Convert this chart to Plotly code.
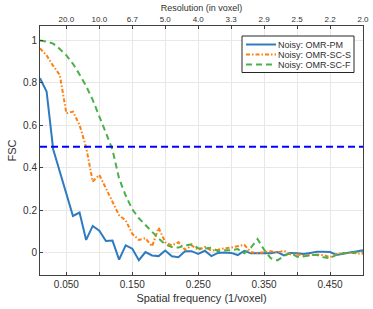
import plotly.graph_objects as go

freq = [round(0.01 * i, 2) for i in range(1, 51)]

omr_pm = [0.822, 0.76, 0.488, 0.385, 0.28, 0.174, 0.19, 0.061, 0.127, 0.105,
          0.056, 0.058, -0.032, 0.036, 0.02, -0.034, 0.004, -0.012, -0.015, 0.011,
          -0.016, -0.02, 0.008, 0.008, -0.005, 0.01, -0.015, 0.0, 0.002, 0.0,
          -0.01, 0.01, -0.002, 0.0, 0.0, -0.002, 0.004, -0.012, 0.0, -0.002,
          -0.005, 0.0, 0.005, 0.006, 0.004, -0.01, -0.003, 0.002, 0.007, 0.012]

omr_sc_s = [0.963, 0.93, 0.88, 0.838, 0.657, 0.665, 0.602, 0.497, 0.336, 0.367,
            0.304, 0.242, 0.177, 0.153, 0.09, 0.061, 0.069, 0.031, 0.118, 0.05,
            0.035, 0.05, 0.015, 0.035, 0.014, 0.028, 0.01, 0.015, 0.022, 0.025,
            0.03, 0.038, 0.003, 0.0, 0.003, 0.008, 0.002, 0.01, -0.006, -0.006,
            -0.014, -0.012, -0.008, -0.01, -0.02, -0.006, 0.0, 0.0, -0.003, -0.004]

omr_sc_f = [1.0, 0.995, 0.985, 0.96, 0.93, 0.89, 0.84, 0.785, 0.72, 0.645,
            0.565, 0.485, 0.35, 0.27, 0.205, 0.163, 0.13, 0.1, 0.068, 0.04,
            0.028, 0.025, 0.035, 0.04, 0.022, 0.02, 0.025, 0.008, 0.012, 0.012,
            0.018, -0.002, 0.025, 0.065, 0.015, -0.025, -0.035, -0.015, 0.0, -0.018,
            -0.017, -0.01, -0.01, -0.02, -0.025, -0.008, -0.002, 0.0, 0.002, 0.006]

threshold = 0.5
bottom_ticks = [0.05, 0.10, 0.15, 0.20, 0.25, 0.30, 0.35, 0.40, 0.45, 0.50]
bottom_labels = ["0.050", "", "0.150", "", "0.250", "", "0.350", "", "0.450", ""]
top_ticks = [0.05, 0.10, 0.15, 0.20, 0.25, 0.30, 0.35, 0.40, 0.45, 0.50]
top_labels = ["20.0", "10.0", "6.7", "5.0", "4.0", "3.3", "2.9", "2.5", "2.2", "2.0"]
y_ticks = [0, 0.2, 0.4, 0.6, 0.8, 1]
y_labels = ["0", "0.2", "0.4", "0.6", "0.8", "1"]

names = ["Noisy: OMR-PM", "Noisy: OMR-SC-S", "Noisy: OMR-SC-F"]
colors = ["#2f7bbf", "#ff7f0e", "#4cb04a"]
dashes = ["solid", "4px,2px,1.5px,2px", "6px,4px"]
series = [omr_pm, omr_sc_s, omr_sc_f]

FONT = "Liberation Sans, Arial, sans-serif"
TXT = "#303030"
AX = "#404040"
XR = [0.01, 0.5]
YR = [-0.104, 1.068]

fig = go.Figure()
for nm, ys, c, d in zip(names, series, colors, dashes):
    fig.add_trace(go.Scatter(x=freq, y=ys, mode="lines", name=nm,
                             line=dict(color=c, width=2, dash=d),
                             showlegend=False))
fig.add_trace(go.Scatter(x=XR, y=[threshold, threshold], mode="lines",
                         line=dict(color="#0000ff", width=2, dash="7px,4px"),
                         showlegend=False, hoverinfo="skip"))
fig.add_trace(go.Scatter(x=XR, y=[threshold, threshold], xaxis="x2", mode="lines",
                         line=dict(width=0), opacity=0, showlegend=False, hoverinfo="skip"))

# compact legend box (paper coordinates)
pl, pr, pt, pb = 40, 363, 26, 275
def px(x):
    return (x - pl) / (pr - pl)
def py(y):
    return (pb - y) / (pb - pt)

shapes = [dict(type="rect", xref="paper", yref="paper", x0=px(242), x1=px(354), y0=py(72.5), y1=py(36),
               line=dict(color="#262626", width=1), fillcolor="white", layer="above")]
annotations = []
for i, (nm, c, d) in enumerate(zip(names, colors, dashes)):
    yy = py(44.5 + 10 * i)
    shapes.append(dict(type="line", xref="paper", yref="paper", x0=px(246), x1=px(276),
                       y0=yy, y1=yy, line=dict(color=c, width=2, dash=d), layer="above"))
    annotations.append(dict(xref="paper", yref="paper", x=px(276), y=yy, text=nm,
                            showarrow=False, xanchor="left", yanchor="middle",
                            font=dict(family=FONT, size=9, color=TXT)))

fig.update_layout(
    width=373, height=309,
    margin=dict(l=40, r=10, t=26, b=34),
    paper_bgcolor="white", plot_bgcolor="white",
    font=dict(family=FONT, size=10, color=TXT),
    shapes=shapes, annotations=annotations,
    xaxis=dict(range=XR, tickvals=bottom_ticks, ticktext=bottom_labels, automargin=False,
               showgrid=True, gridcolor="#e8e8e8", zeroline=False, showline=True, linecolor=AX,
               linewidth=1, ticks="inside", ticklen=3, tickcolor=AX,
               tickfont=dict(size=10, color=TXT),
               title=dict(text="Spatial frequency (1/voxel)", font=dict(size=11, color=TXT), standoff=5)),
    xaxis2=dict(range=XR, overlaying="x", side="top", tickvals=top_ticks, ticktext=top_labels,
                automargin=False, showgrid=False, zeroline=False,
                showline=True, linecolor=AX, linewidth=1,
                ticks="inside", ticklen=3, tickcolor=AX,
                tickfont=dict(size=8, color=TXT),
                title=dict(text="Resolution (in voxel)", font=dict(size=9, color=TXT), standoff=1)),
    yaxis=dict(range=YR, tickvals=y_ticks, ticktext=y_labels, showgrid=True, automargin=False,
               gridcolor="#e8e8e8", zeroline=False, showline=True, linecolor=AX,
               linewidth=1, mirror=True, ticks="inside", ticklen=3, tickcolor=AX,
               tickfont=dict(size=10, color=TXT),
               title=dict(text="FSC", font=dict(size=11, color=TXT), standoff=4)),
)
fig.write_html("out.html", config={"displayModeBar": False},
               post_script="document.body.style.margin='0';")
